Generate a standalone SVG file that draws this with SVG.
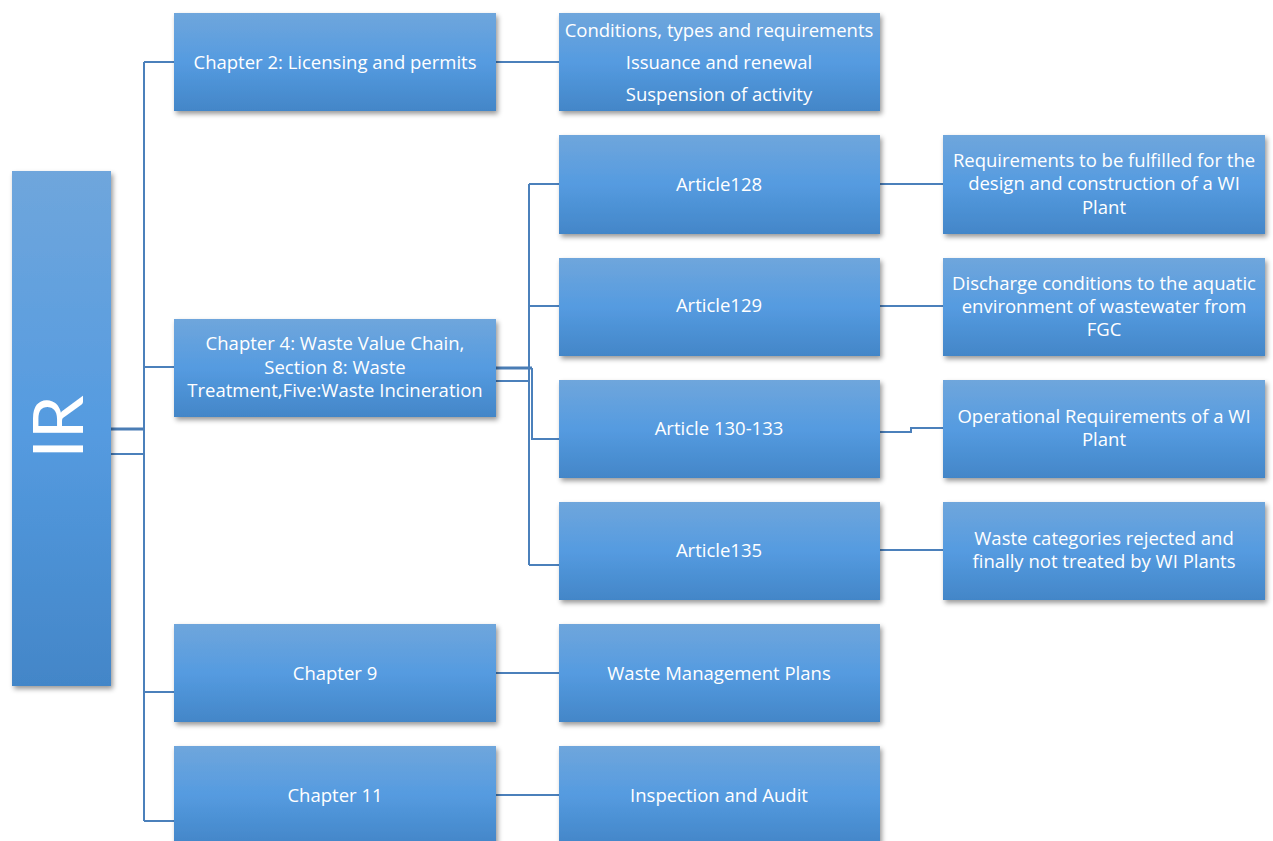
<svg xmlns="http://www.w3.org/2000/svg" width="1273" height="841" viewBox="0 0 1273 841">
<style>
.box{fill:url(#g);filter:url(#sh)}
.t{font-family:"Open Sans",Lato,sans-serif;font-size:18.5px;fill:#ffffff;text-anchor:middle}
.c{fill:none;stroke:#4b80bb;stroke-width:2}
.ck{fill:none;stroke:#4a7db5;stroke-width:3}
</style>
<defs>
<linearGradient id="g" x1="0" y1="0" x2="0" y2="1">
<stop offset="0" stop-color="#6fa6dc"/>
<stop offset="0.5" stop-color="#559be0"/>
<stop offset="1" stop-color="#4386c8"/>
</linearGradient>
<filter id="sh" x="-10%" y="-10%" width="125%" height="130%">
<feDropShadow dx="2" dy="3" stdDeviation="2.5" flood-color="#000" flood-opacity="0.4"/>
</filter>
</defs>
<rect width="1273" height="841" fill="#ffffff"/>
<g id="connectors">
<path class="ck" d="M111 429H144"/>
<path class="c" d="M111 454H144"/>
<path class="c" d="M144 62V821"/>
<path class="c" d="M144 62H174M144 367H174M144 692H174M144 821H174"/>
<path class="c" d="M496 62H559M496 673H559M496 795H559"/>
<path class="ck" d="M496 368H532"/>
<path class="c" d="M496 381H529"/>
<path class="c" d="M529 184V565M529 184H559M529 306H559M529 565H559"/>
<path class="c" d="M532 368V439H559"/>
<path class="c" d="M880 184H943M880 306H943M880 432H911V428H943M880 550H943"/>
</g>
<g id="n-ir"><rect class="box" x="12" y="171" width="99" height="515"/>
<text transform="translate(83,427) rotate(-90)" style="font-family:Lato,'Open Sans',sans-serif;font-size:70px;font-weight:400;fill:#fff;text-anchor:middle">IR</text></g>
<g id="n-ch2"><rect class="box" x="174" y="13" width="322" height="98"/><text class="t" x="335" y="69">Chapter 2: Licensing and permits</text></g>
<g id="n-ch4"><rect class="box" x="174" y="319" width="322" height="98"/>
<text class="t" x="335" y="350">Chapter 4: Waste Value Chain,</text>
<text class="t" x="335" y="374">Section 8: Waste</text>
<text class="t" x="335" y="397">Treatment,Five:Waste Incineration</text></g>
<g id="n-ch9"><rect class="box" x="174" y="624" width="322" height="98"/><text class="t" x="335" y="680">Chapter 9</text></g>
<g id="n-ch11"><rect class="box" x="174" y="746" width="322" height="98"/><text class="t" x="335" y="802">Chapter 11</text></g>
<g id="n-cond"><rect class="box" x="559" y="13" width="321" height="98"/>
<text class="t" x="719" y="37">Conditions, types and requirements</text>
<text class="t" x="719" y="69">Issuance and renewal</text>
<text class="t" x="719" y="101">Suspension of activity</text></g>
<g id="n-a128"><rect class="box" x="559" y="135" width="321" height="99"/><text class="t" x="719" y="191">Article128</text></g>
<g id="n-a129"><rect class="box" x="559" y="258" width="321" height="98"/><text class="t" x="719" y="312">Article129</text></g>
<g id="n-a130"><rect class="box" x="559" y="380" width="321" height="98"/><text class="t" x="719" y="435">Article 130-133</text></g>
<g id="n-a135"><rect class="box" x="559" y="502" width="321" height="98"/><text class="t" x="719" y="557">Article135</text></g>
<g id="n-wmp"><rect class="box" x="559" y="624" width="321" height="98"/><text class="t" x="719" y="680">Waste Management Plans</text></g>
<g id="n-insp"><rect class="box" x="559" y="746" width="321" height="98"/><text class="t" x="719" y="802">Inspection and Audit</text></g>
<g id="n-req"><rect class="box" x="943" y="135" width="322" height="99"/>
<text class="t" x="1104" y="167">Requirements to be fulfilled for the</text>
<text class="t" x="1104" y="190">design and construction of a WI</text>
<text class="t" x="1104" y="214">Plant</text></g>
<g id="n-dis"><rect class="box" x="943" y="258" width="322" height="98"/>
<text class="t" x="1104" y="290">Discharge conditions to the aquatic</text>
<text class="t" x="1104" y="313">environment of wastewater from</text>
<text class="t" x="1104" y="336">FGC</text></g>
<g id="n-op"><rect class="box" x="943" y="380" width="322" height="98"/>
<text class="t" x="1104" y="423">Operational Requirements of  a WI</text>
<text class="t" x="1104" y="446">Plant</text></g>
<g id="n-cat"><rect class="box" x="943" y="502" width="322" height="98"/>
<text class="t" x="1104" y="545">Waste categories rejected and</text>
<text class="t" x="1104" y="568">finally not treated by WI Plants</text></g>
</svg>
